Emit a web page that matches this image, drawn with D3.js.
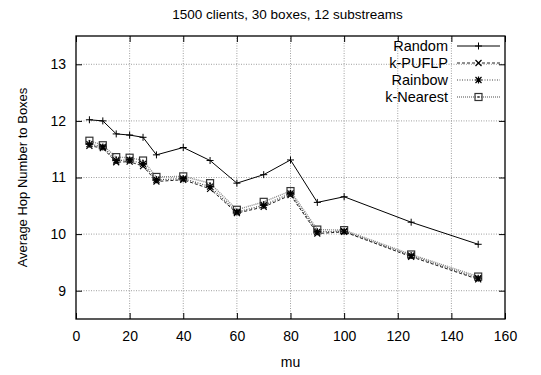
<!DOCTYPE html>
<html>
<head>
<meta charset="utf-8">
<script src="https://cdn.jsdelivr.net/npm/d3@7"></script>
<style>
  body { margin: 0; background: #fff; }
  text { font-family: "Liberation Sans", Arial, sans-serif; fill: #000; }
</style>
</head>
<body>
<div id="container"></div>
<script>
const mu = [5, 10, 15, 20, 25, 30, 40, 50, 60, 70, 80, 90, 100, 125, 150]
const random = [12.02, 12.0, 11.77, 11.75, 11.71, 11.40, 11.53, 11.30, 10.90, 11.05, 11.31, 10.56, 10.66, 10.21, 9.82]
const kPuflp = [11.56, 11.52, 11.27, 11.28, 11.20, 10.93, 10.96, 10.80, 10.37, 10.48, 10.69, 10.01, 10.04, 9.60, 9.20]
const rainbow = [11.59, 11.54, 11.30, 11.31, 11.24, 10.96, 10.98, 10.84, 10.39, 10.51, 10.72, 10.04, 10.05, 9.62, 9.22]
const kNearest = [11.65, 11.57, 11.36, 11.35, 11.30, 11.01, 11.02, 10.90, 10.43, 10.57, 10.76, 10.08, 10.07, 9.64, 9.25]
const seriesNames = ['Random', 'k-PUFLP', 'Rainbow', 'k-Nearest']
const xTicks = [0, 20, 40, 60, 80, 100, 120, 140, 160]
const yTicks = [9, 10, 11, 12, 13]

const width = 541
const height = 375
const margin = { top: 36, right: 36, bottom: 56, left: 76 }

const svg = d3.select('#container')
  .append('svg')
  .attr('width', width)
  .attr('height', height)

const x = d3.scaleLinear().domain([0, 160]).range([margin.left, width - margin.right])
const y = d3.scaleLinear().domain([8.5, 13.5]).range([height - margin.bottom, margin.top])

// grid
svg.append('g').selectAll('line')
  .data(xTicks.slice(1, -1))
  .enter().append('line')
  .attr('x1', d => x(d)).attr('x2', d => x(d))
  .attr('y1', y(8.5)).attr('y2', y(13.5))
  .style('stroke', '#777').style('stroke-width', 0.7).style('stroke-dasharray', '1,1.5')

svg.append('g').selectAll('line')
  .data(yTicks)
  .enter().append('line')
  .attr('y1', d => y(d)).attr('y2', d => y(d))
  .attr('x1', x(0)).attr('x2', x(160))
  .style('stroke', '#777').style('stroke-width', 0.7).style('stroke-dasharray', '1,1.5')

// axes with inward ticks, mirrored
const tickLen = 6
svg.append('g').attr('transform', `translate(0,${y(8.5)})`)
  .call(d3.axisBottom(x).tickValues(xTicks).tickSizeInner(-tickLen).tickSizeOuter(0).tickPadding(12))
svg.append('g').attr('transform', `translate(0,${y(13.5)})`)
  .call(d3.axisTop(x).tickValues(xTicks).tickSizeInner(-tickLen).tickSizeOuter(0).tickFormat(''))
svg.append('g').attr('transform', `translate(${x(0)},0)`)
  .call(d3.axisLeft(y).tickValues(yTicks).tickFormat(d3.format('d')).tickSizeInner(-tickLen).tickSizeOuter(0).tickPadding(10))
svg.append('g').attr('transform', `translate(${x(160)},0)`)
  .call(d3.axisRight(y).tickValues(yTicks).tickSizeInner(-tickLen).tickSizeOuter(0).tickFormat(''))

svg.selectAll('.domain').remove()
svg.selectAll('.tick line').style('stroke', '#000')
svg.selectAll('.tick text').style('font-size', '14px').style('font-family', '"Liberation Sans", Arial, sans-serif')

svg.append('rect')
  .attr('x', x(0)).attr('y', y(13.5))
  .attr('width', x(160) - x(0)).attr('height', y(8.5) - y(13.5))
  .style('fill', 'none').style('stroke', '#000').style('stroke-width', 1.3)

// marker drawers
function plus(g, cx, cy) {
  g.append('path').attr('d', `M${cx - 3.5},${cy}H${cx + 3.5}M${cx},${cy - 3.5}V${cy + 3.5}`)
    .style('stroke', '#000').style('stroke-width', 1).style('fill', 'none')
}
function cross(g, cx, cy) {
  g.append('path').attr('d', `M${cx - 3},${cy - 3}L${cx + 3},${cy + 3}M${cx - 3},${cy + 3}L${cx + 3},${cy - 3}`)
    .style('stroke', '#000').style('stroke-width', 1.2).style('fill', 'none')
}
function star(g, cx, cy) {
  g.append('path').attr('d', `M${cx - 3.5},${cy}H${cx + 3.5}M${cx},${cy - 3.5}V${cy + 3.5}M${cx - 3},${cy - 3}L${cx + 3},${cy + 3}M${cx - 3},${cy + 3}L${cx + 3},${cy - 3}`)
    .style('stroke', '#000').style('stroke-width', 1.2).style('fill', 'none')
}
function square(g, cx, cy) {
  g.append('rect').attr('x', cx - 3.5).attr('y', cy - 3.5).attr('width', 7).attr('height', 7)
    .style('stroke', '#333').style('stroke-width', 1.2).style('fill', 'none')
  g.append('rect').attr('x', cx - 0.8).attr('y', cy - 0.8).attr('width', 1.6).attr('height', 1.6)
    .style('fill', '#333')
}

const series = [
  { name: seriesNames[0], values: random, color: '#000', dash: null, w: 1, marker: plus },
  { name: seriesNames[1], values: kPuflp, color: '#222', dash: '3,2', w: 1, marker: cross },
  { name: seriesNames[2], values: rainbow, color: '#444', dash: '1,1.5', w: 1.2, marker: star },
  { name: seriesNames[3], values: kNearest, color: '#888', dash: '1,1', w: 1.4, marker: square }
]

const line = d3.line().x(d => x(d[0])).y(d => y(d[1]))

// draw from back to front: k-Nearest first
series.slice().reverse().forEach(s => {
  const pts = mu.map((m, i) => [m, s.values[i]])
  const g = svg.append('g')
  g.append('path').datum(pts).attr('d', line)
    .style('fill', 'none').style('stroke', s.color).style('stroke-width', s.w)
    .style('stroke-dasharray', s.dash)
  pts.forEach(p => s.marker(g, x(p[0]), y(p[1])))
})

// legend
const legend = svg.append('g')
series.forEach((s, i) => {
  const ly = 46 + i * 17
  legend.append('text').attr('x', 448).attr('y', ly).attr('dy', '0.35em')
    .attr('text-anchor', 'end').style('font-size', '14.5px').text(s.name)
  legend.append('line').attr('x1', 457).attr('x2', 500).attr('y1', ly).attr('y2', ly)
    .style('stroke', s.color).style('stroke-width', s.w).style('stroke-dasharray', s.dash)
  s.marker(legend, 478.5, ly)
})

// titles
svg.append('text').attr('x', (x(0) + x(160)) / 2 - 3).attr('y', 14).attr('dy', '0.35em')
  .attr('text-anchor', 'middle').style('font-size', '13.5px')
  .text('1500 clients, 30 boxes, 12 substreams')
svg.append('text').attr('x', (x(0) + x(160)) / 2).attr('y', 362).attr('dy', '0.35em')
  .attr('text-anchor', 'middle').style('font-size', '14px').text('mu')
svg.append('text').attr('transform', `translate(22,${(y(8.5) + y(13.5)) / 2}) rotate(-90)`)
  .attr('dy', '0.35em').attr('text-anchor', 'middle').style('font-size', '13px')
  .text('Average Hop Number to Boxes')
</script>
</body>
</html>
